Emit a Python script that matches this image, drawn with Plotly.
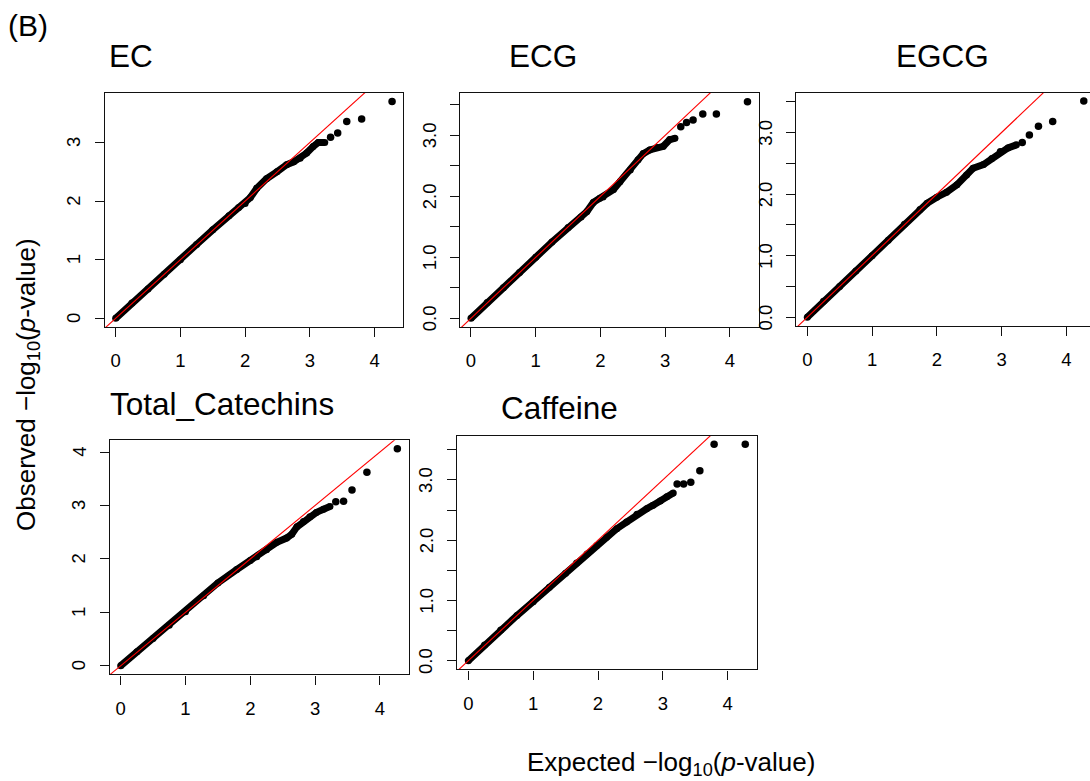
import plotly.graph_objects as go

# ---------------- data ----------------
titles = ["EC", "ECG", "EGCG", "Total_Catechins", "Caffeine"]

# dense part of each QQ curve: expected, observed -log10(p)
ec_band_x = [0.0, 0.25, 0.5, 0.75, 1.0, 1.25, 1.5, 1.75, 1.9, 2.0, 2.08, 2.18, 2.33, 2.49, 2.64, 2.75, 2.85, 2.95, 3.05, 3.13, 3.23]
ec_band_y = [0.0, 0.26, 0.5, 0.75, 1.0, 1.26, 1.51, 1.75, 1.89, 1.96, 2.06, 2.22, 2.38, 2.50, 2.62, 2.67, 2.73, 2.82, 2.93, 3.00, 3.00]
ec_tail_x = [3.32, 3.43, 3.57, 3.80, 4.27]
ec_tail_y = [3.09, 3.16, 3.36, 3.40, 3.70]

ecg_band_x = [0.0, 0.25, 0.5, 0.75, 1.0, 1.25, 1.5, 1.70, 1.79, 1.89, 1.99, 2.04, 2.20, 2.30, 2.46, 2.58, 2.66, 2.76, 2.87, 2.97, 3.07, 3.15]
ecg_band_y = [0.0, 0.26, 0.5, 0.75, 1.0, 1.25, 1.49, 1.66, 1.75, 1.90, 1.97, 1.99, 2.11, 2.24, 2.43, 2.60, 2.70, 2.76, 2.80, 2.82, 2.93, 2.95]
ecg_tail_x = [3.24, 3.33, 3.43, 3.58, 3.79, 4.27]
ecg_tail_y = [3.14, 3.21, 3.25, 3.35, 3.35, 3.55]

egcg_band_x = [0.0, 0.25, 0.5, 0.75, 1.0, 1.25, 1.5, 1.74, 1.85, 2.0, 2.15, 2.31, 2.46, 2.56, 2.72, 2.85, 2.98, 3.10, 3.23]
egcg_band_y = [0.0, 0.26, 0.5, 0.75, 1.0, 1.25, 1.51, 1.75, 1.85, 1.95, 2.03, 2.15, 2.31, 2.42, 2.48, 2.58, 2.69, 2.75, 2.80]
egcg_tail_x = [3.32, 3.43, 3.57, 3.79, 4.27]
egcg_tail_y = [2.84, 2.96, 3.10, 3.18, 3.51]

tc_band_x = [0.0, 0.25, 0.5, 0.75, 1.0, 1.28, 1.5, 1.79, 2.0, 2.10, 2.25, 2.41, 2.56, 2.64, 2.72, 2.82, 2.92, 3.02, 3.13, 3.23]
tc_band_y = [0.0, 0.26, 0.51, 0.76, 1.01, 1.31, 1.55, 1.80, 1.97, 2.04, 2.17, 2.31, 2.39, 2.46, 2.60, 2.70, 2.79, 2.87, 2.93, 2.98]
tc_tail_x = [3.32, 3.44, 3.57, 3.80, 4.27]
tc_tail_y = [3.07, 3.08, 3.29, 3.62, 4.06]

caf_band_x = [0.0, 0.25, 0.5, 0.75, 1.0, 1.25, 1.5, 1.67, 1.83, 1.98, 2.13, 2.29, 2.44, 2.60, 2.75, 2.85, 2.96, 3.06, 3.16]
caf_band_y = [0.0, 0.26, 0.51, 0.75, 0.98, 1.22, 1.45, 1.62, 1.77, 1.91, 2.05, 2.19, 2.30, 2.43, 2.52, 2.58, 2.65, 2.72, 2.78]
caf_tail_x = [3.22, 3.32, 3.43, 3.57, 3.79, 4.27]
caf_tail_y = [2.93, 2.93, 2.96, 3.15, 3.59, 3.59]

# identity reference line end points
ref_line = [-1.0, 5.0]

x_ticks = [0, 1, 2, 3, 4]
x_ticktext = ["0", "1", "2", "3", "4"]
y_ticks_int3 = [0, 1, 2, 3]
y_ticktext_int3 = ["0", "1", "2", "3"]
y_ticks_int4 = [0, 1, 2, 3, 4]
y_ticktext_int4 = ["0", "1", "2", "3", "4"]
y_ticks_half = [0, 0.5, 1.0, 1.5, 2.0, 2.5, 3.0, 3.5]
y_ticktext_half = ["0.0", "", "1.0", "", "2.0", "", "3.0", ""]

bands = [(ec_band_x, ec_band_y), (ecg_band_x, ecg_band_y), (egcg_band_x, egcg_band_y),
         (tc_band_x, tc_band_y), (caf_band_x, caf_band_y)]
tails = [(ec_tail_x, ec_tail_y), (ecg_tail_x, ecg_tail_y), (egcg_tail_x, egcg_tail_y),
         (tc_tail_x, tc_tail_y), (caf_tail_x, caf_tail_y)]
yticks = [(y_ticks_int3, y_ticktext_int3), (y_ticks_half, y_ticktext_half), (y_ticks_half, y_ticktext_half),
          (y_ticks_int4, y_ticktext_int4), (y_ticks_half, y_ticktext_half)]

# ---------------- layout (pixel geometry) ----------------
W, H = 1090, 781
FONT = "Liberation Sans, Arial, Helvetica, sans-serif"
TICK_FONT = dict(size=18.5, family=FONT, color="black")

# panel boxes in pixels: left, right, top, bottom
boxes = [(104.6, 403.4, 92.8, 327.0),
         (459.9, 758.8, 93.1, 327.0),
         (796.2, 1090.0, 92.5, 325.9),
         (109.6, 408.7, 440.2, 674.4),
         (457.2, 756.6, 435.6, 669.4)]
xranges = [[-0.171, 4.445], [-0.171, 4.445], [-0.171, 4.366], [-0.171, 4.445], [-0.171, 4.445]]
yranges = [[-0.148, 3.848], [-0.142, 3.692], [-0.140, 3.650], [-0.162, 4.222], [-0.144, 3.734]]
title_pos = [(107, 56), (507, 56), (894, 56), (108, 404), (499, 408)]
YLABEL_GAP = 31  # px from box left edge to centre of rotated y tick labels

fig = go.Figure()
layout = dict(width=W, height=H, margin=dict(l=0, r=0, t=0, b=0),
              paper_bgcolor="white", plot_bgcolor="white", showlegend=False,
              font=dict(family=FONT, color="black"))
annotations = []

for i in range(5):
    n = "" if i == 0 else str(i + 1)
    xa, ya = "x" + n, "y" + n
    l, r, t, b = boxes[i]
    axis_common = dict(showgrid=False, zeroline=False, showline=True, linecolor="#111",
                       linewidth=1.2, ticks="outside", ticklen=9, tickwidth=1.2,
                       tickcolor="#111", tickfont=TICK_FONT)
    layout["xaxis" + n] = dict(axis_common, domain=[l / W, r / W], range=xranges[i],
                               anchor=ya, mirror=True, tickvals=x_ticks, ticktext=x_ticktext,
                               ticklabelstandoff=8)
    layout["yaxis" + n] = dict(axis_common, domain=[1 - b / H, 1 - t / H], range=yranges[i],
                               anchor=xa, mirror=(i != 2), tickvals=yticks[i][0],
                               showticklabels=False)
    # rotated y tick labels (R style), placed at the tick values of this axis
    for val, txt in zip(*yticks[i]):
        if txt:
            annotations.append(dict(text=txt, x=(l - YLABEL_GAP) / W, xref="paper",
                                    y=val, yref=ya, textangle=-90, xanchor="center",
                                    yanchor="middle", showarrow=False, font=TICK_FONT))
    bx, by = bands[i]
    fig.add_trace(go.Scatter(x=bx, y=by, mode="lines+markers", xaxis=xa, yaxis=ya,
                             line=dict(color="black", width=7),
                             marker=dict(color="black", size=7), hoverinfo="skip"))
    tx, ty = tails[i]
    fig.add_trace(go.Scatter(x=tx, y=ty, mode="markers", xaxis=xa, yaxis=ya,
                             marker=dict(color="black", size=7.5)))
    fig.add_trace(go.Scatter(x=ref_line, y=ref_line, mode="lines", xaxis=xa, yaxis=ya,
                             line=dict(color="#ff0000", width=1.1)))

for i, (px, py) in enumerate(title_pos):
    annotations.append(dict(text=titles[i], x=px / W, y=1 - py / H, xref="paper", yref="paper",
                            xanchor="left", yanchor="middle", showarrow=False,
                            font=dict(size=31.5, family=FONT, color="black")))
annotations.append(dict(text="(B)", x=6 / W, y=1 - 26 / H, xref="paper", yref="paper",
                        xanchor="left", yanchor="middle", showarrow=False,
                        font=dict(size=30, family=FONT, color="black")))
annotations.append(dict(text="Observed \u2212log<sub>10</sub>(<i>p</i>-value)", x=27 / W, y=1 - 385 / H,
                        xref="paper", yref="paper", xanchor="center", yanchor="middle",
                        textangle=-90, showarrow=False,
                        font=dict(size=26, family=FONT, color="black")))
annotations.append(dict(text="Expected \u2212log<sub>10</sub>(<i>p</i>-value)", x=671 / W, y=1 - 763 / H,
                        xref="paper", yref="paper", xanchor="center", yanchor="middle",
                        showarrow=False, font=dict(size=26, family=FONT, color="black")))
layout["annotations"] = annotations

fig.update_layout(**layout)
fig.write_html("out.html", config={"responsive": False, "displayModeBar": False},
               post_script="document.body.style.margin='0px';document.body.style.padding='0px';")
